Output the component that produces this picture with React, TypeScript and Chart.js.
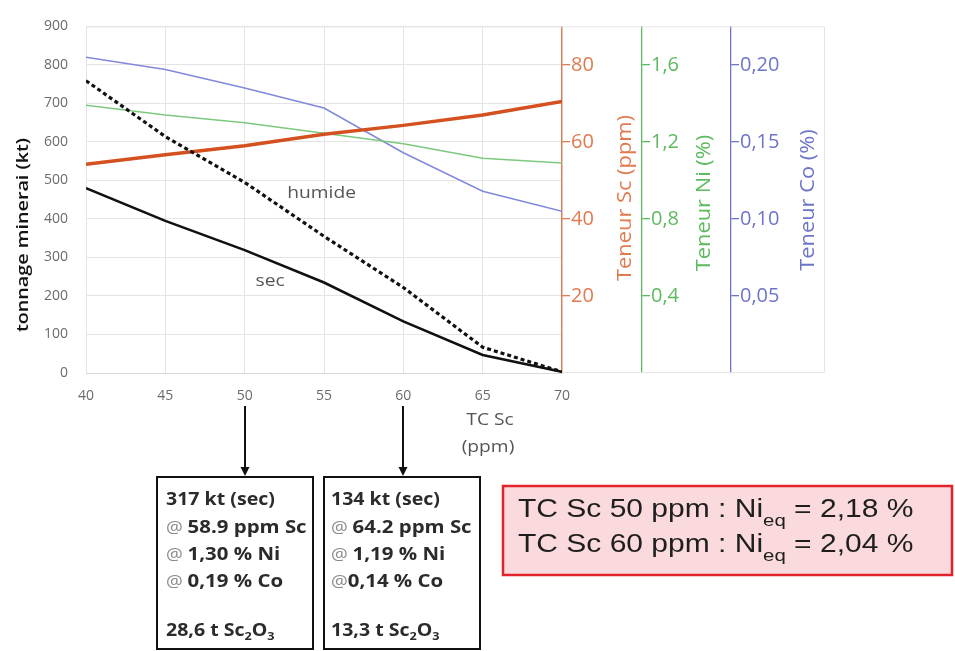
import React, { useEffect, useRef } from 'react';
import { Chart, registerables } from 'chart.js';

Chart.register(...registerables);

// ---------- data ----------
const cutoffGrades = [40, 45, 50, 55, 60, 65, 70];
const tonnageSec = [480, 395, 319, 235, 134, 47, 3];
const tonnageHumide = [759, 614, 495, 355, 222, 67, 3];
const teneurSc = [54.2, 56.7, 59.0, 62.0, 64.3, 67.0, 70.5];
const teneurNi = [1.39, 1.34, 1.3, 1.245, 1.19, 1.115, 1.09];
const teneurCo = [0.205, 0.197, 0.185, 0.172, 0.143, 0.118, 0.105];

const xTickValues = [40, 45, 50, 55, 60, 65, 70];
const tonnageTickValues = [0, 100, 200, 300, 400, 500, 600, 700, 800, 900];
const scTickValues = [20, 40, 60, 80];
const niTickValues = [0.4, 0.8, 1.2, 1.6];
const coTickValues = [0.05, 0.1, 0.15, 0.2];

const seriesLabels = ['humide', 'sec'];
const seriesLabelX = [54.85, 51.6];
const seriesLabelY = [466, 239];

const selectedCutoffs = [50, 60];
const boxTonnage = ['317 kt (sec)', '134 kt (sec)'];
const boxSc = ['58.9 ppm Sc', '64.2 ppm Sc'];
const boxNi = ['1,30 % Ni', '1,19 % Ni'];
const boxCo = ['0,19 % Co', '0,14 % Co'];
const boxCoPrefix = ['@ ', '@'];
const boxOxide = ['28,6', '13,3'];

const nieqCutoffs = ['50', '60'];
const nieqValues = ['2,18', '2,04'];

// ---------- styling ----------
const FONT = '"Open Sans", "DejaVu Sans", sans-serif';
const ARIAL = '"Liberation Sans", Arial, sans-serif';
const SX = 1.2;
const GRID = '#e4e4e4';
const SC_LINE = '#d4501e';
const SC_AXIS = '#e07a4f';
const NI_LINE = '#7cc97e';
const NI_AXIS = '#5dba5f';
const CO_LINE = '#8189da';
const CO_AXIS = '#6d75c8';

function txt(ctx: CanvasRenderingContext2D, s: string, x: number, y: number, sx = SX) {
  ctx.save();
  ctx.translate(x, y);
  ctx.scale(sx, 1);
  ctx.fillText(s, 0, 0);
  ctx.restore();
  return ctx.measureText(s).width * sx;
}

function vtext(
  ctx: CanvasRenderingContext2D,
  s: string,
  cx: number,
  cy: number,
  font: string,
  color: string,
  along: number,
  across: number
) {
  ctx.save();
  ctx.translate(cx, cy);
  ctx.rotate(-Math.PI / 2);
  ctx.scale(along, across);
  ctx.font = font;
  ctx.fillStyle = color;
  ctx.textAlign = 'center';
  ctx.textBaseline = 'middle';
  ctx.fillText(s, 0, 0);
  ctx.restore();
}

const annotations = {
  id: 'annotations',
  beforeDatasetsDraw(chart: any) {
    const { ctx, chartArea } = chart;
    const co = chart.scales.co;
    ctx.save();
    ctx.strokeStyle = GRID;
    ctx.lineWidth = 1;
    ctx.beginPath();
    ctx.moveTo(chartArea.left, chartArea.top + 0.5);
    ctx.lineTo(co.right - 0.5, chartArea.top + 0.5);
    ctx.lineTo(co.right - 0.5, chartArea.bottom - 0.5);
    ctx.lineTo(chartArea.right, chartArea.bottom - 0.5);
    ctx.stroke();
    ctx.restore();
  },
  afterDraw(chart: any) {
    const { ctx, chartArea } = chart;
    const { x, y, sc, ni, co } = chart.scales;
    ctx.save();

    // axis titles
    vtext(ctx, 'tonnage minerai (kt)', 23, 235, `600 17px ${FONT}`, '#141414', 1.16, 1.0);
    vtext(ctx, 'Teneur Sc (ppm)', sc.left + 63, 198, `19px ${FONT}`, SC_AXIS, 1.15, 1.05);
    vtext(ctx, 'Teneur Ni (%)', ni.left + 62, 203, `19px ${FONT}`, NI_AXIS, 1.15, 1.05);
    vtext(ctx, 'Teneur Co (%)', co.left + 77, 200, `19px ${FONT}`, CO_AXIS, 1.15, 1.05);

    // series labels
    ctx.textAlign = 'center';
    ctx.textBaseline = 'middle';
    ctx.font = `16px ${FONT}`;
    ctx.fillStyle = '#555';
    seriesLabels.forEach((s, i) => {
      txt(ctx, s, x.getPixelForValue(seriesLabelX[i]), y.getPixelForValue(seriesLabelY[i]));
    });

    // x title
    ctx.font = `16px ${FONT}`;
    ctx.fillStyle = '#555';
    txt(ctx, 'TC Sc', x.right - 72, chartArea.bottom + 47);
    txt(ctx, '(ppm)', x.right - 74, chartArea.bottom + 74);

    // arrows + boxes
    const boxTop = 477;
    const boxH = 172;
    const boxW = 156;
    const boxLeftOffset = [-88, -79];
    const textOffset = [9, 7];
    selectedCutoffs.forEach((c, i) => {
      const ax = Math.round(x.getPixelForValue(c));
      ctx.strokeStyle = '#111';
      ctx.fillStyle = '#111';
      ctx.lineWidth = 2;
      ctx.beginPath();
      ctx.moveTo(ax, chartArea.bottom + 33);
      ctx.lineTo(ax, boxTop - 7);
      ctx.stroke();
      ctx.beginPath();
      ctx.moveTo(ax - 4.5, boxTop - 10);
      ctx.lineTo(ax + 4.5, boxTop - 10);
      ctx.lineTo(ax, boxTop - 1);
      ctx.closePath();
      ctx.fill();
      const bl = ax + boxLeftOffset[i];
      ctx.lineWidth = 2;
      ctx.strokeRect(bl, boxTop, boxW, boxH);

      const tx = bl + textOffset[i];
      ctx.textAlign = 'left';
      ctx.textBaseline = 'middle';
      const bold = `bold 17px ${FONT}`;
      ctx.font = bold;
      ctx.fillStyle = '#2b2b2b';
      txt(ctx, boxTonnage[i], tx, 500, 1.15);
      const atLine = (prefix: string, rest: string, yy: number) => {
        ctx.font = `17px ${FONT}`;
        ctx.fillStyle = '#8a8a8a';
        const w = txt(ctx, prefix, tx, yy, 1.1);
        ctx.font = bold;
        ctx.fillStyle = '#2b2b2b';
        txt(ctx, rest, tx + w, yy, 1.2);
      };
      atLine('@ ', boxSc[i], 528);
      atLine('@ ', boxNi[i], 555);
      atLine(boxCoPrefix[i], boxCo[i], 582);
      ctx.font = bold;
      ctx.fillStyle = '#2b2b2b';
      let ox = tx;
      ox += txt(ctx, `${boxOxide[i]} t Sc`, ox, 631, 1.15);
      ctx.font = `bold 11px ${FONT}`;
      ox += txt(ctx, '2', ox, 637, 1.15);
      ctx.font = bold;
      ox += txt(ctx, 'O', ox, 631, 1.15);
      ctx.font = `bold 11px ${FONT}`;
      txt(ctx, '3', ox, 637, 1.15);
    });

    // red box
    ctx.fillStyle = '#fadadd';
    ctx.fillRect(503, 486, 449, 89);
    ctx.strokeStyle = '#e3222b';
    ctx.lineWidth = 2.5;
    ctx.strokeRect(503, 486, 449, 89);
    ctx.textAlign = 'left';
    ctx.textBaseline = 'alphabetic';
    ctx.fillStyle = '#1e1e1e';
    const baselines = [517, 552];
    nieqCutoffs.forEach((c, i) => {
      let px = 518;
      ctx.font = `25px ${ARIAL}`;
      px += txt(ctx, `TC Sc ${c} ppm : Ni`, px, baselines[i]);
      ctx.font = `17px ${ARIAL}`;
      px += txt(ctx, 'eq', px, baselines[i] + 9);
      ctx.font = `25px ${ARIAL}`;
      txt(ctx, ` = ${nieqValues[i]} %`, px, baselines[i]);
    });

    ctx.restore();
  },
};

function rightAxis(color: string, values: number[], max: number, weight: number, width: number, fmt: (v: number) => string) {
  return {
    type: 'linear',
    position: 'right',
    weight,
    min: 0,
    max,
    grid: { drawOnChartArea: false, drawTicks: true, tickLength: 8, color, lineWidth: 1.3 },
    border: { display: true, color, width: 1.3 },
    ticks: {
      color,
      padding: 1,
      font: { family: FONT, size: 20 },
      callback: (v: number) => fmt(v),
    },
    afterBuildTicks: (axis: any) => {
      axis.ticks = values.map((v) => ({ value: v }));
    },
    afterFit: (axis: any) => {
      axis.width = width;
    },
  };
}

export default function App() {
  const ref = useRef<HTMLCanvasElement>(null);

  useEffect(() => {
    document.body.style.margin = '0';
    const canvas = ref.current!;
    const pts = (vals: number[]) => cutoffGrades.map((g, i) => ({ x: g, y: vals[i] }));
    const chart = new Chart(canvas, {
      type: 'line',
      data: {
        datasets: [
          {
            label: 'humide',
            data: pts(tonnageHumide),
            yAxisID: 'y',
            borderColor: '#111',
            borderWidth: 3.2,
            borderDash: [4, 3],
            pointRadius: 0,
            tension: 0,
          },
          {
            label: 'sec',
            data: pts(tonnageSec),
            yAxisID: 'y',
            borderColor: '#111',
            borderWidth: 2.6,
            pointRadius: 0,
            tension: 0,
          },
          {
            label: 'Teneur Sc',
            data: pts(teneurSc),
            yAxisID: 'sc',
            borderColor: SC_LINE,
            borderWidth: 3.5,
            pointRadius: 0,
            tension: 0,
          },
          {
            label: 'Teneur Ni',
            data: pts(teneurNi),
            yAxisID: 'ni',
            borderColor: NI_LINE,
            borderWidth: 1.5,
            pointRadius: 0,
            tension: 0,
          },
          {
            label: 'Teneur Co',
            data: pts(teneurCo),
            yAxisID: 'co',
            borderColor: CO_LINE,
            borderWidth: 1.5,
            pointRadius: 0,
            tension: 0,
          },
        ],
      },
      options: {
        responsive: false,
        animation: false,
        devicePixelRatio: 1,
        layout: { padding: { top: 19, right: 130, bottom: 248, left: 0 } },
        plugins: { legend: { display: false }, tooltip: { enabled: false } },
        scales: {
          x: {
            type: 'linear',
            min: 40,
            max: 70,
            grid: { color: GRID, drawTicks: false },
            border: { color: '#d8d8d8' },
            ticks: { color: '#6b6b6b', padding: 15, font: { family: FONT, size: 14 } },
            afterBuildTicks: (axis: any) => {
              axis.ticks = xTickValues.map((v) => ({ value: v }));
            },
            afterFit: (axis: any) => {
              axis.height = 30;
            },
          },
          y: {
            type: 'linear',
            position: 'left',
            min: 0,
            max: 900,
            grid: { color: GRID, drawTicks: false },
            border: { display: false },
            ticks: { color: '#6b6b6b', padding: 18, font: { family: FONT, size: 14 } },
            afterBuildTicks: (axis: any) => {
              axis.ticks = tonnageTickValues.map((v) => ({ value: v }));
            },
            afterFit: (axis: any) => {
              axis.width = 86;
            },
          },
          sc: rightAxis(SC_AXIS, scTickValues, 90, 1, 80, (v) => String(v)),
          ni: rightAxis(NI_AXIS, niTickValues, 1.8, 2, 89, (v) => v.toFixed(1).replace('.', ',')),
          co: rightAxis(CO_AXIS, coTickValues, 0.225, 3, 94, (v) => v.toFixed(2).replace('.', ',')),
        },
      } as any,
      plugins: [annotations],
    });
    return () => chart.destroy();
  }, []);

  return (
    <div style={{ width: 955, height: 651, position: 'relative', background: '#fff' }}>
      <canvas ref={ref} width={955} height={651} style={{ display: 'block' }} />
    </div>
  );
}
